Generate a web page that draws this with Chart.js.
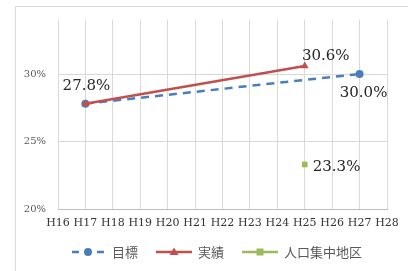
<!DOCTYPE html>
<html>
<head>
<meta charset="utf-8">
<script src="https://cdn.jsdelivr.net/npm/chart.js@4"></script>
<style>
  html, body { margin: 0; padding: 0; background: #fff; }
  #wrap { position: relative; width: 408px; height: 271px; overflow: hidden; }
  #frame { position: absolute; left: 15px; top: 6px; width: 420px; height: 300px; border: 1px solid #d9d9d9; box-sizing: border-box; }
  #c { position: absolute; left: 0; top: 0; }
</style>
</head>
<body>
<div id="wrap">
  <div id="frame"></div>
  <canvas id="c" width="408" height="271"></canvas>
</div>
<script>
// ----------- データ -----------
const years = ["H16", "H17", "H18", "H19", "H20", "H21", "H22", "H23", "H24", "H25", "H26", "H27", "H28"];
const mokuhyo = [null, 27.8, null, null, null, null, null, null, null, null, null, 30.0, null];
const jisseki = [null, 27.8, null, null, null, null, null, null, null, 30.6, null, null, null];
const did = [null, null, null, null, null, null, null, null, null, 23.3, null, null, null];
const yTicks = [20, 25, 30];

const BLUE = "#4a7ebb", RED = "#c0504d", GREEN = "#9bbb59";
const SERIF = "'DejaVu Serif', 'Liberation Serif', serif";
const JP = "'Noto Sans CJK JP', sans-serif";

// データラベル（位置のずれだけ指定）
const labelPos = [
  { ds: 0, i: 1, dx: 1, dy: -18, align: "center" },
  { ds: 0, i: 11, dx: 4, dy: 19, align: "center" },
  { ds: 1, i: 9, dx: 21, dy: -10, align: "center" },
  { ds: 2, i: 9, dx: 8, dy: 3, align: "left" }
];

const dataLabels = {
  id: "dataLabels",
  afterDatasetsDraw(chart) {
    const ctx = chart.ctx;
    ctx.save();
    ctx.font = "15px " + SERIF;
    ctx.fillStyle = "#262626";
    ctx.textBaseline = "middle";
    labelPos.forEach(p => {
      const v = chart.data.datasets[p.ds].data[p.i];
      const pt = chart.getDatasetMeta(p.ds).data[p.i];
      ctx.textAlign = p.align;
      ctx.fillText(v.toFixed(1) + "%", pt.x + p.dx, pt.y + p.dy);
    });
    ctx.restore();
  }
};

// 凡例（線＋マーカー）
const lineLegend = {
  id: "lineLegend",
  afterDraw(chart) {
    const ctx = chart.ctx;
    const y = 252;
    const segLen = 36;
    ctx.save();
    ctx.font = "13px " + JP;
    ctx.textBaseline = "middle";
    const items = chart.data.datasets.map(ds => ({ ds, w: ctx.measureText(ds.label).width }));
    const total = items.reduce((s, it) => s + segLen + 6 + it.w, 0) + 18 * (items.length - 1);
    let x = 216 - total / 2;
    items.forEach(it => {
      const ds = it.ds;
      const cx = x + segLen / 2;
      ctx.strokeStyle = ds.borderColor;
      ctx.lineWidth = 2.5;
      ctx.beginPath();
      if (ds.borderDash) {
        ctx.moveTo(x + 2, y); ctx.lineTo(x + 9, y);
        ctx.moveTo(x + segLen - 9, y); ctx.lineTo(x + segLen - 2, y);
      } else {
        ctx.moveTo(x, y); ctx.lineTo(x + segLen, y);
      }
      ctx.stroke();
      ctx.fillStyle = ds.pointBackgroundColor;
      ctx.beginPath();
      if (ds.pointStyle === "circle") ctx.arc(cx, y, 4, 0, Math.PI * 2);
      else if (ds.pointStyle === "rect") ctx.rect(cx - 3.5, y - 3.5, 7, 7);
      else { ctx.moveTo(cx, y - 4.5); ctx.lineTo(cx + 4.5, y + 3); ctx.lineTo(cx - 4.5, y + 3); ctx.closePath(); }
      ctx.fill();
      ctx.fillStyle = "#595959";
      ctx.textAlign = "left";
      ctx.fillText(ds.label, x + segLen + 6, y);
      x += segLen + 6 + it.w + 18;
    });
    ctx.restore();
  }
};

new Chart(document.getElementById("c"), {
  type: "line",
  data: {
    labels: years,
    datasets: [
      {
        label: "目標", data: mokuhyo, spanGaps: true, order: 2,
        borderColor: BLUE, backgroundColor: BLUE, borderWidth: 2.5, borderDash: [8, 6],
        pointStyle: "circle", pointRadius: 4, pointBackgroundColor: BLUE, pointBorderColor: BLUE, pointBorderWidth: 0
      },
      {
        label: "実績", data: jisseki, spanGaps: true, order: 1,
        borderColor: RED, backgroundColor: RED, borderWidth: 2.5,
        pointStyle: "triangle", pointRadius: 4.5, pointBackgroundColor: RED, pointBorderColor: RED, pointBorderWidth: 0
      },
      {
        label: "人口集中地区", data: did, spanGaps: true, order: 0,
        borderColor: GREEN, backgroundColor: GREEN, borderWidth: 2.5,
        pointStyle: "rect", pointRadius: 4, pointBackgroundColor: GREEN, pointBorderColor: GREEN, pointBorderWidth: 0
      }
    ]
  },
  options: {
    responsive: false,
    animation: false,
    layout: { padding: { top: 20, right: 21, bottom: 32, left: 0 } },
    plugins: { legend: { display: false }, tooltip: { enabled: false } },
    scales: {
      x: {
        offset: false,
        grid: { color: "#d9d9d9", drawTicks: false },
        border: { color: "#bfbfbf" },
        ticks: { color: "#333333", font: { family: SERIF, size: 11 }, padding: 8, maxRotation: 0, autoSkip: false },
        afterFit(s) { s.height = 30; }
      },
      y: {
        min: 20, max: 34,
        grid: { color: "#d9d9d9", drawTicks: false },
        border: { display: false },
        afterBuildTicks(s) { s.ticks = yTicks.map(v => ({ value: v })); },
        ticks: { color: "#595959", font: { family: SERIF, size: 10 }, padding: 12, callback: v => v + "%" },
        afterFit(s) { s.width = 58; }
      }
    }
  },
  plugins: [dataLabels, lineLegend]
});
</script>
</body>
</html>
